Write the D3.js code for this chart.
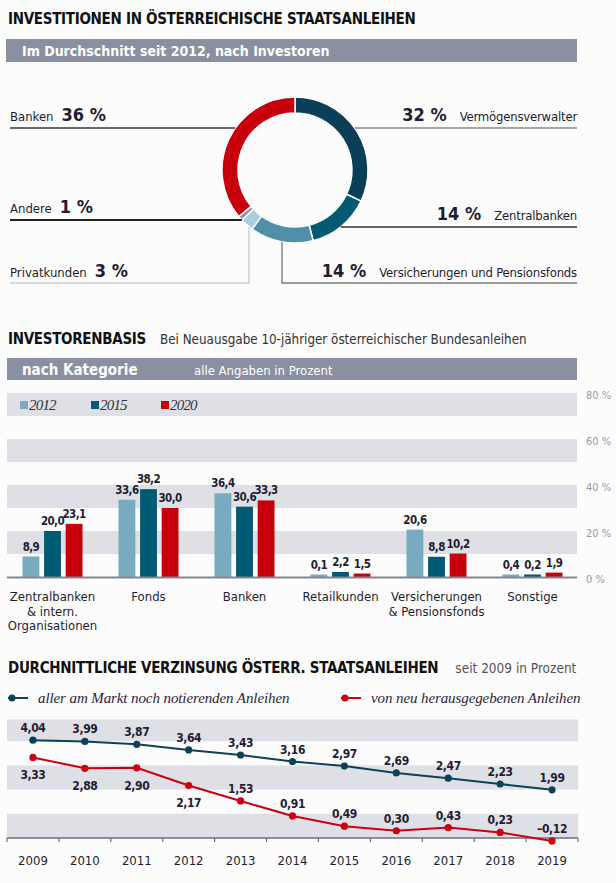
<!DOCTYPE html>
<html>
<head>
<meta charset="utf-8">
<script src="https://cdn.jsdelivr.net/npm/d3@7"></script>
<style>
  html, body { margin: 0; padding: 0; background: #fcfcfc; }
  svg { display: block; }
  text { font-family: "DejaVu Sans Condensed", "Liberation Sans Narrow", "Roboto", sans-serif; }
  .serif { font-family: "Liberation Serif", "DejaVu Serif", serif; font-style: italic; }
</style>
</head>
<body>
<svg id="chart" width="616" height="883"></svg>
<script>
// ---------- DATA ----------
const donutLabels = ["Vermögensverwalter", "Zentralbanken", "Versicherungen und Pensionsfonds", "Privatkunden", "Andere", "Banken"];
const donutValues = [32, 14, 14, 3, 1, 36];

const barCategories = [["Zentralbanken", "& intern.", "Organisationen"], ["Fonds"], ["Banken"], ["Retailkunden"], ["Versicherungen", "& Pensionsfonds"], ["Sonstige"]];
const barYears = ["2012", "2015", "2020"];
const bars2012 = [8.9, 33.6, 36.4, 0.1, 20.6, 0.4];
const bars2015 = [20.0, 38.2, 30.6, 2.2, 8.8, 0.2];
const bars2020 = [23.1, 30.0, 33.3, 1.5, 10.2, 1.9];
const barTicks = [0, 20, 40, 60, 80];

const lineYears = ["2009", "2010", "2011", "2012", "2013", "2014", "2015", "2016", "2017", "2018", "2019"];
const yieldAll = [4.04, 3.99, 3.87, 3.64, 3.43, 3.16, 2.97, 2.69, 2.47, 2.23, 1.99];
const yieldNew = [3.33, 2.88, 2.90, 2.17, 1.53, 0.91, 0.49, 0.30, 0.43, 0.23, -0.12];

// ---------- STYLE ----------
const svg = d3.select("#chart");
const INK = "#1f1d33";
const BAND = "#dfe0e6";
const HEAD = "#8a90a1";
const donutColors = ["#0b3f58", "#035a72", "#4f8fa8", "#a9cede", "#8f90a4", "#c8000b"];
const barColors = ["#78aac0", "#015a73", "#c8000b"];
const lineColors = ["#0e4057", "#cc0010"];
const fmt = v => (v < 0 ? "\u2013" : "") + d3.format(".1f")(Math.abs(v)).replace(".", ",");
const fmt2 = v => (v < 0 ? "\u2013" : "") + d3.format(".2f")(Math.abs(v)).replace(".", ",");

svg.append("rect").attr("width", 616).attr("height", 883).attr("fill", "#fcfcfc");

// ================= SECTION 1: DONUT =================
svg.append("text").attr("x", 8).attr("y", 24)
  .attr("font-size", 15).attr("font-weight", "bold").attr("fill", "#111")
  .attr("letter-spacing", -0.3)
  .text("INVESTITIONEN IN ÖSTERREICHISCHE STAATSANLEIHEN");

svg.append("rect").attr("x", 6).attr("y", 39).attr("width", 571).attr("height", 23).attr("fill", HEAD);
svg.append("text").attr("x", 22).attr("y", 56)
  .attr("font-size", 14).attr("font-weight", "bold").attr("fill", "#fff")
  .text("Im Durchschnitt seit 2012, nach Investoren");

const cx = 295, cy = 170, R = 73, r = 57;
const pie = d3.pie().sort(null).value(d => d);
const arc = d3.arc().innerRadius(r).outerRadius(R);
const gD = svg.append("g").attr("transform", `translate(${cx},${cy})`);
gD.selectAll("path").data(pie(donutValues)).join("path")
  .attr("d", arc).attr("fill", (d, i) => donutColors[i])
  .attr("stroke", "#fcfcfc").attr("stroke-width", 1.5);

// leader lines (geometry derived from circle)
const xAt = (y, side) => cx + side * Math.sqrt(R * R - (y - cy) * (y - cy));
const yAt = x => cy + Math.sqrt(R * R - (x - cx) * (x - cx));
const leaders = svg.append("g").attr("fill", "none");
leaders.append("line").attr("x1", 10).attr("x2", xAt(128, -1)).attr("y1", 128).attr("y2", 128).attr("stroke", "#3a3a3a").attr("stroke-width", 1.5);
leaders.append("line").attr("x1", xAt(128, 1)).attr("x2", 577).attr("y1", 128).attr("y2", 128).attr("stroke", "#8a8a8a").attr("stroke-width", 1.3);
leaders.append("line").attr("x1", 10).attr("x2", xAt(220, -1)).attr("y1", 220).attr("y2", 220).attr("stroke", "#222").attr("stroke-width", 2);
leaders.append("line").attr("x1", xAt(227, 1)).attr("x2", 577).attr("y1", 227).attr("y2", 227).attr("stroke", "#333").attr("stroke-width", 1.6);
leaders.append("path").attr("d", `M10,283H249V${yAt(249)}`).attr("stroke", "#cfcfcf").attr("stroke-width", 1.5);
leaders.append("path").attr("d", `M282,${yAt(282)}V283H577`).attr("stroke", "#777").attr("stroke-width", 1.3);

function leftLabel(name, val, y) {
  const t = svg.append("text").attr("x", 10).attr("y", y).attr("fill", INK);
  t.append("tspan").attr("font-size", 13).text(name);
  t.append("tspan").attr("dx", 8).attr("font-size", 18).attr("font-weight", "bold").text(val + " %");
}
function rightLabel(name, val, y) {
  const t = svg.append("text").attr("x", 577).attr("y", y).attr("fill", INK).attr("text-anchor", "end");
  t.append("tspan").attr("font-size", 18).attr("font-weight", "bold").text(val + " %");
  t.append("tspan").attr("dx", 13).attr("font-size", 13).attr("letter-spacing", -0.2).text(name);
}
leftLabel(donutLabels[5], donutValues[5], 121);
leftLabel(donutLabels[4], donutValues[4], 213);
leftLabel(donutLabels[3], donutValues[3], 277);
rightLabel(donutLabels[0], donutValues[0], 121);
rightLabel(donutLabels[1], donutValues[1], 220);
rightLabel(donutLabels[2], donutValues[2], 277);

// ================= SECTION 2: BARS =================
const t2 = svg.append("text").attr("x", 8).attr("y", 344).attr("fill", "#111");
t2.append("tspan").attr("font-size", 15).attr("font-weight", "bold").attr("letter-spacing", -0.3).text("INVESTORENBASIS");
t2.append("tspan").attr("dx", 14).attr("font-size", 13.3).attr("fill", "#333").text("Bei Neuausgabe 10-jähriger österreichischer Bundesanleihen");

svg.append("rect").attr("x", 7).attr("y", 358).attr("width", 570).attr("height", 22).attr("fill", HEAD);
svg.append("text").attr("x", 22).attr("y", 375).attr("font-size", 15).attr("font-weight", "bold").attr("fill", "#fff").text("nach Kategorie");
svg.append("text").attr("x", 194).attr("y", 375).attr("font-size", 13).attr("fill", "#fff").text("alle Angaben in Prozent");

const yB = d3.scaleLinear().domain([0, 80]).range([577, 393]);
const x0 = d3.scaleBand().domain(d3.range(barCategories.length)).range([4.5, 580.5]).paddingInner(0.375).paddingOuter(0.1875);
const x1 = d3.scaleBand().domain(barYears).range([0, x0.bandwidth()]).paddingInner(0.22);

svg.append("g").selectAll("rect").data(d3.range(10, 80, 20)).join("rect")
  .attr("x", 7).attr("width", 570)
  .attr("y", d => yB(d + 10)).attr("height", d => yB(d) - yB(d + 10))
  .attr("fill", BAND);

svg.append("g").selectAll("text").data(barTicks).join("text")
  .attr("x", 586).attr("y", d => yB(d) + 2).attr("dy", "0.35em")
  .attr("font-size", 11).attr("fill", "#9a9aa6").text(d => d + " %");

const leg = svg.append("g").selectAll("g").data(barYears).join("g")
  .attr("transform", (d, i) => `translate(${[20, 91, 161][i]},0)`);
leg.append("rect").attr("y", 401).attr("width", 8).attr("height", 8).attr("fill", (d, i) => barColors[i]);
leg.append("text").attr("class", "serif").attr("x", 9).attr("y", 410).attr("font-size", 15)
  .attr("letter-spacing", -0.8).attr("fill", "#333").text(d => d);

const series = [bars2012, bars2015, bars2020];
const groups = svg.append("g").selectAll("g").data(barCategories).join("g")
  .attr("transform", (d, i) => `translate(${x0(i)},0)`);
groups.each(function (cat, ci) {
  const g = d3.select(this);
  barYears.forEach((yr, si) => {
    const v = series[si][ci];
    const h = Math.max(yB(0) - yB(v), 2.5);
    g.append("rect").attr("x", x1(yr)).attr("width", x1.bandwidth())
      .attr("y", yB(0) - h).attr("height", h).attr("fill", barColors[si]);
    g.append("text").attr("x", x1(yr) + x1.bandwidth() / 2).attr("y", yB(0) - h - 6)
      .attr("text-anchor", "middle").attr("font-size", 11.5).attr("font-weight", "bold")
      .attr("fill", INK).attr("letter-spacing", -0.6).text(fmt(v));
  });
  const lab = g.append("text").attr("text-anchor", "middle").attr("font-size", 13).attr("fill", INK);
  cat.forEach((line, li) => lab.append("tspan").attr("x", x0.bandwidth() / 2).attr("y", 601 + li * 14.5).text(line));
});

svg.append("line").attr("x1", 7).attr("x2", 577).attr("y1", yB(0) + 0.5).attr("y2", yB(0) + 0.5)
  .attr("stroke", "#85858f").attr("stroke-width", 2);

// ================= SECTION 3: LINES =================
const t3 = svg.append("text").attr("x", 8).attr("y", 673).attr("fill", "#111");
t3.append("tspan").attr("font-size", 15).attr("font-weight", "bold").attr("letter-spacing", -0.3).text("DURCHNITTLICHE VERZINSUNG ÖSTERR. STAATSANLEIHEN");
t3.append("tspan").attr("dx", 17).attr("font-size", 13.5).attr("fill", "#555").text("seit 2009 in Prozent");

const legendItems = ["aller am Markt noch notierenden Anleihen", "von neu herausgegebenen Anleihen"];
const lg = svg.append("g").selectAll("g").data(legendItems).join("g")
  .attr("transform", (d, i) => `translate(${[8, 341][i]},698)`);
lg.append("line").attr("x1", 0).attr("x2", 20).attr("stroke", (d, i) => lineColors[i]).attr("stroke-width", 2);
lg.append("circle").attr("cx", 4).attr("r", 3.5).attr("fill", (d, i) => lineColors[i]);
lg.append("text").attr("class", "serif").attr("x", 30).attr("y", 5).attr("font-size", 15)
  .attr("letter-spacing", -0.1).attr("fill", "#2a2440").text(d => d);

const xL = d3.scaleBand().domain(lineYears).range([7, 578]);
const yL = d3.scaleLinear().domain([0, 4.9]).range([838, 719.4]);

svg.append("g").selectAll("rect").data([0, 2, 4]).join("rect")
  .attr("x", 7).attr("width", 571)
  .attr("y", d => yL(Math.min(d + 1, 4.9))).attr("height", d => yL(d) - yL(Math.min(d + 1, 4.9)))
  .attr("fill", BAND);

svg.append("line").attr("x1", 7).attr("x2", 578).attr("y1", yL(0)).attr("y2", yL(0))
  .attr("stroke", "#6f6f78").attr("stroke-width", 1.5);
svg.append("g").selectAll("line").data(lineYears.concat(["end"])).join("line")
  .attr("x1", (d, i) => xL.range()[0] + i * xL.step()).attr("x2", (d, i) => xL.range()[0] + i * xL.step())
  .attr("y1", yL(0)).attr("y2", yL(0) + 4).attr("stroke", "#6f6f78").attr("stroke-width", 1.2);

svg.append("g").selectAll("text").data(lineYears).join("text")
  .attr("x", d => xL(d) + xL.bandwidth() / 2).attr("y", 865)
  .attr("text-anchor", "middle").attr("font-size", 13).attr("fill", INK).text(d => d);

const lineGen = d3.line().x((d, i) => xL(lineYears[i]) + xL.bandwidth() / 2).y(d => yL(d));
[yieldAll, yieldNew].forEach((vals, si) => {
  svg.append("path").datum(vals).attr("d", lineGen).attr("fill", "none")
    .attr("stroke", lineColors[si]).attr("stroke-width", 2);
  svg.append("g").selectAll("circle").data(vals).join("circle")
    .attr("cx", (d, i) => xL(lineYears[i]) + xL.bandwidth() / 2).attr("cy", d => yL(d))
    .attr("r", 3.6).attr("fill", lineColors[si]);
  svg.append("g").selectAll("text").data(vals).join("text")
    .attr("x", (d, i) => xL(lineYears[i]) + xL.bandwidth() / 2)
    .attr("y", d => (si === 1 && d > 2) ? yL(d) + 22 : yL(d) - 8)
    .attr("text-anchor", "middle").attr("font-size", 12).attr("font-weight", "bold")
    .attr("letter-spacing", -0.4).attr("fill", INK).text(fmt2);
});
</script>
</body>
</html>
